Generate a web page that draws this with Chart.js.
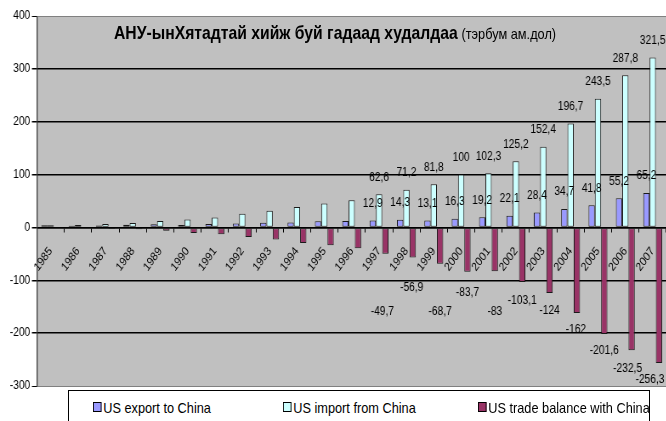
<!DOCTYPE html>
<html>
<head>
<meta charset="utf-8">
<script src="https://cdn.jsdelivr.net/npm/chart.js@4.4.1/dist/chart.umd.min.js"></script>
<style>
  html, body { margin: 0; padding: 0; background: #fff; width: 666px; height: 421px; overflow: hidden; }
  #wrap { position: absolute; left: 0; top: 0; width: 792px; height: 400px; transform: scaleX(0.85); transform-origin: 0 0; }
  .sans { font-family: "Liberation Sans", Arial, sans-serif; }
  #title { position: absolute; left: 114px; top: 22px; white-space: nowrap; color: #000; line-height: 22px; transform: scaleX(0.85); transform-origin: 0 0; }
  #title .main { font-weight: bold; font-size: 18.5px; }
  #title .unit { font-size: 15px; }
  #legend { position: absolute; left: 68px; top: 390px; width: 580px; height: 34px; border: 1px solid #000; background: #fff; }
  .item { position: absolute; top: 9px; font-size: 15px; line-height: 16px; white-space: nowrap; color: #000; transform: scaleX(0.85); transform-origin: 0 0; }
  .sw { display: inline-block; width: 8px; height: 8px; border: 1px solid #000; margin-right: 2px; vertical-align: 1px; }
</style>
</head>
<body>
<div id="wrap"><canvas id="c"></canvas></div>
<div id="title" class="sans"><span class="main">АНУ-ынХятадтай хийж буй гадаад худалдаа</span> <span class="unit">(тэрбум ам.дол)</span></div>
<div id="legend" class="sans"></div>
<script>
// ---- data ----
const years = ['1985','1986','1987','1988','1989','1990','1991','1992','1993','1994','1995','1996',
               '1997','1998','1999','2000','2001','2002','2003','2004','2005','2006','2007'];
const usExport = [3.9, 3.1, 3.5, 5.0, 5.8, 4.8, 6.3, 7.4, 8.8, 9.3, 11.8, 12.0,
                  12.9, 14.3, 13.1, 16.3, 19.2, 22.1, 28.4, 34.7, 41.8, 55.2, 65.2];
const usImport = [3.9, 4.8, 6.3, 8.5, 12.0, 15.2, 19.0, 25.7, 31.5, 38.8, 45.5, 51.5,
                  62.6, 71.2, 81.8, 100, 102.3, 125.2, 152.4, 196.7, 243.5, 287.8, 321.5];
const usBalance = [0.0, -1.7, -2.8, -3.5, -6.2, -10.4, -12.7, -18.3, -22.8, -29.5, -33.8, -39.5,
                   -49.7, -56.9, -68.7, -83.7, -83, -103.1, -124, -162, -201.6, -232.5, -256.3];
const yTicks = [400, 300, 200, 100, 0, -100, -200, -300];
const seriesNames = ['US export to China', 'US import from China', 'US trade balance with China'];
const firstLabelled = '1997';

// ---- styles ----
const SX = 0.85; // horizontal squeeze of the whole drawing
const fills = ['#9999ff', '#ccffff', '#993366'];
const SANS = '"Liberation Sans", Arial, sans-serif';
// hand-placed offsets (display px) of the balance labels
const balDy = [58, 30, 48, 21, 40, 19, 17.5, 16.4, 16.5, 18, 16.5];
const balDx = [-3, -1, 0, 0, 0, 0, 0, -1, 0, -4, -9];
const legendX = [24, 214, 409];

const fmt = v => String(v).replace('.', ',');

const plotBg = {
  id: 'plotBg',
  beforeDraw(chart) {
    const { ctx, chartArea: a } = chart;
    ctx.save();
    ctx.fillStyle = '#c0c0c0';
    ctx.fillRect(a.left, a.top, a.right - a.left, a.bottom - a.top);
    ctx.strokeStyle = '#808080';
    ctx.lineWidth = 1;
    ctx.strokeRect(a.left + 0.5, a.top + 0.5, a.right - a.left, a.bottom - a.top);
    ctx.restore();
  }
};

const dataLabels = {
  id: 'dataLabels',
  afterDraw(chart) {
    const { ctx } = chart;
    const start = years.indexOf(firstLabelled);
    ctx.save();
    ctx.font = '12px ' + SANS;
    ctx.fillStyle = '#000';
    ctx.textAlign = 'center';
    ctx.textBaseline = 'middle';
    chart.data.datasets.forEach((ds, di) => {
      const meta = chart.getDatasetMeta(di);
      for (let i = start; i < ds.data.length; i++) {
        const el = meta.data[i];
        const v = ds.data[i];
        if (v >= 0) {
          ctx.fillText(fmt(v), el.x, el.y - 17);
        } else {
          const k = i - start;
          ctx.fillText(fmt(v), el.x + balDx[k] / SX, el.y + balDy[k]);
        }
      }
    });
    ctx.restore();
  }
};

new Chart(document.getElementById('c'), {
  type: 'bar',
  data: {
    labels: years,
    datasets: [usExport, usImport, usBalance].map((d, i) => ({
      label: seriesNames[i],
      data: d,
      backgroundColor: fills[i],
      borderColor: '#1a1a1a',
      borderWidth: 1,
      borderSkipped: false,
      barPercentage: 1,
      categoryPercentage: 0.69
    }))
  },
  options: {
    responsive: true,
    maintainAspectRatio: false,
    animation: false,
    layout: { padding: { left: 0, right: 5, top: 16, bottom: 14 } },
    plugins: { legend: { display: false }, tooltip: { enabled: false } },
    scales: {
      x: {
        position: { y: 0 },
        z: 1,
        offset: true,
        afterFit: s => { s.height = 0; },
        grid: { display: true, drawOnChartArea: false, drawTicks: true, tickLength: 4, offset: true, color: '#000', lineWidth: 1 },
        border: { display: true, color: '#000', width: 1.5 },
        ticks: { autoSkip: false, minRotation: 50, maxRotation: 50, padding: 13, color: '#000', font: { family: SANS, size: 12 } }
      },
      y: {
        min: -300, max: 400,
        afterFit: s => { s.width = 37 / SX; },
        afterBuildTicks: s => { s.ticks = yTicks.map(v => ({ value: v })); },
        grid: {
          color: c => (c.tick && (c.tick.value === 400 || c.tick.value === -300)) ? '#808080' : '#000',
          lineWidth: c => (c.tick && (c.tick.value === 400 || c.tick.value === -300)) ? 1 : 1.5,
          drawTicks: true, tickLength: 6, tickColor: '#000'
        },
        border: { display: true, color: '#404040', width: 1 },
        ticks: { padding: 2, color: '#000', font: { family: SANS, size: 12 } }
      }
    }
  },
  plugins: [plotBg, dataLabels]
});

// legend (HTML)
const lg = document.getElementById('legend');
seriesNames.forEach((n, i) => {
  const d = document.createElement('div');
  d.className = 'item';
  d.style.left = legendX[i] + 'px';
  const sw = document.createElement('span');
  sw.className = 'sw';
  sw.style.background = fills[i];
  d.appendChild(sw);
  d.appendChild(document.createTextNode(n));
  lg.appendChild(d);
});
</script>
</body>
</html>
